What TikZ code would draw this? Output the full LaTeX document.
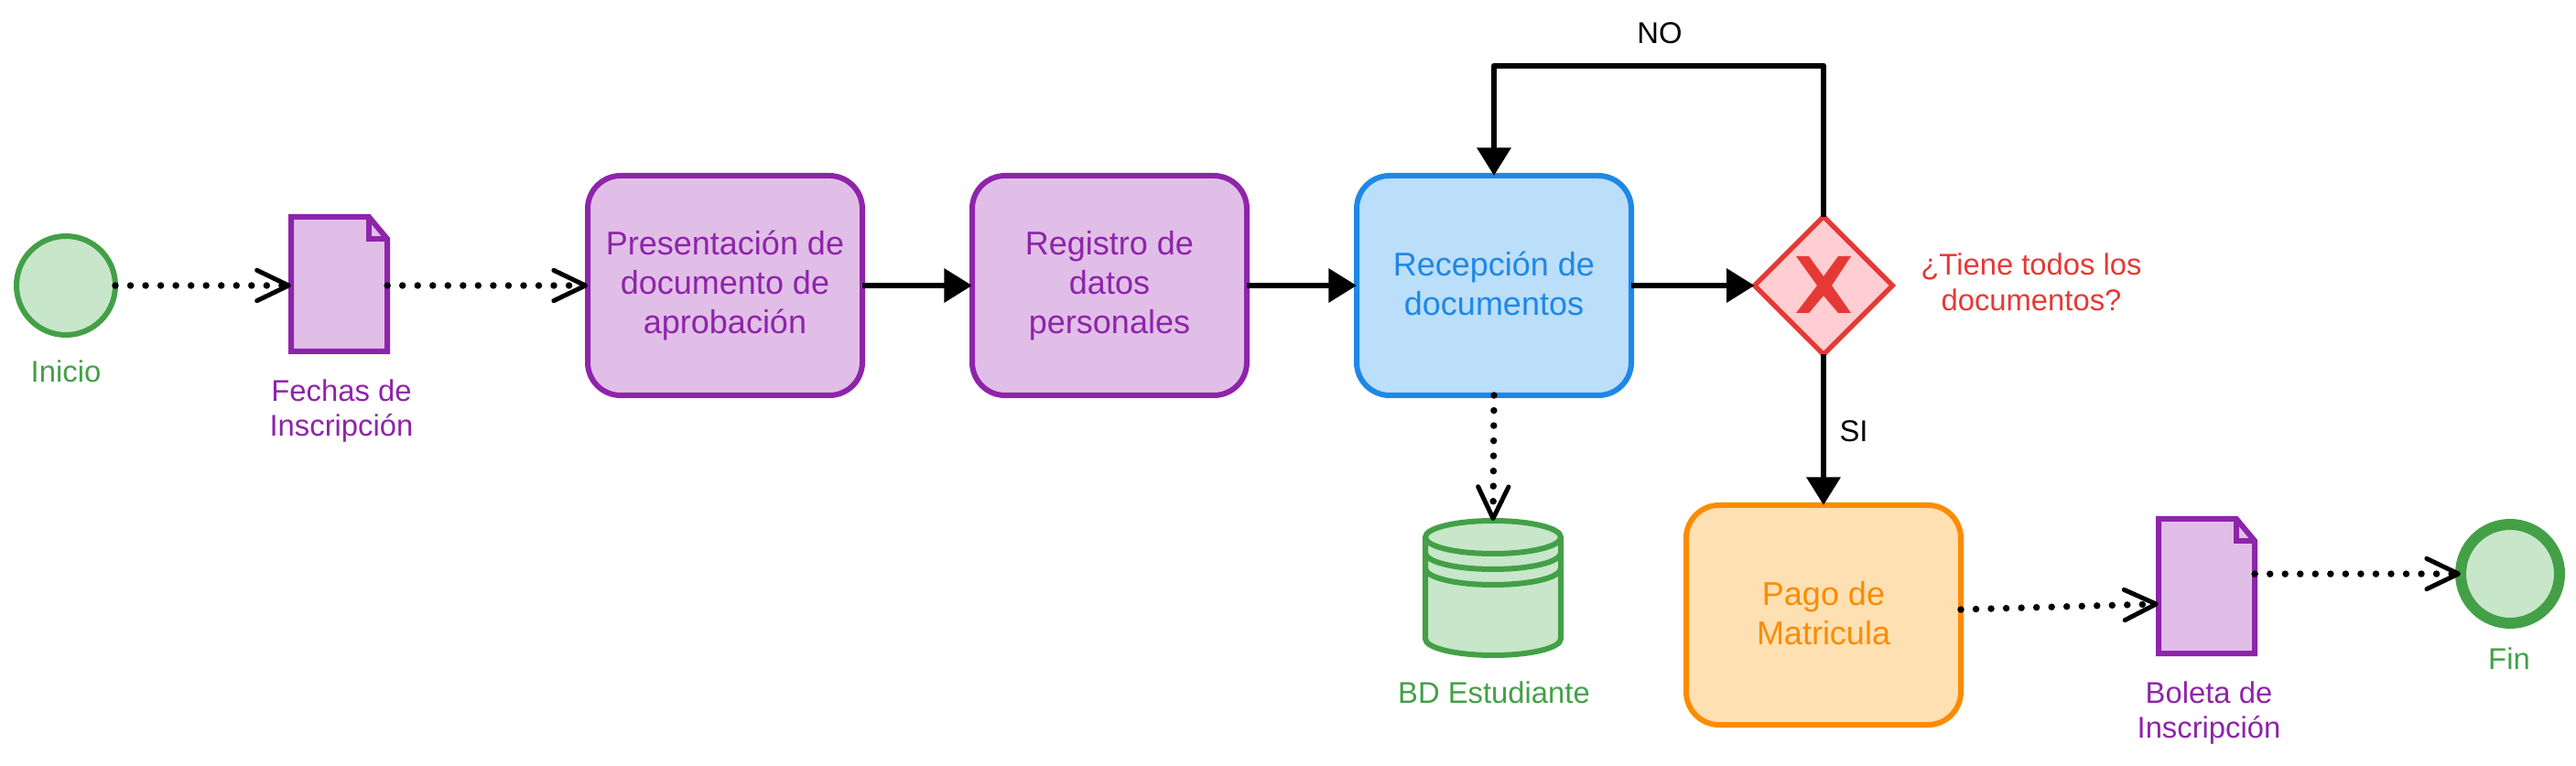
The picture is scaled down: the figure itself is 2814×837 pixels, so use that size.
\documentclass[tikz,border=0pt]{standalone}
\usepackage{fontspec}
\setmainfont{Liberation Sans}
\usetikzlibrary{arrows.meta,shapes.geometric}

\definecolor{verde}{HTML}{43A047}
\definecolor{verdeFondo}{HTML}{C8E6C9}
\definecolor{morado}{HTML}{8E24AA}
\definecolor{moradoFondo}{HTML}{E1BEE7}
\definecolor{azul}{HTML}{1E88E5}
\definecolor{azulFondo}{HTML}{BBDEFB}
\definecolor{naranja}{HTML}{FB8C00}
\definecolor{naranjaFondo}{HTML}{FFE0B2}
\definecolor{rojo}{HTML}{E53935}
\definecolor{rojoFondo}{HTML}{FFCDD2}

\tikzset{
  tarea/.style={draw=#1,fill=#1Fondo,text=#1,rounded corners=27pt,line width=4.5pt,
    minimum width=225pt,minimum height=180pt,outer sep=0pt,inner sep=0.75pt,align=center,
    font=\fontsize{27}{32.3}\selectfont},
  evento/.style={circle,draw=verde,fill=verdeFondo,line width=#1,minimum size=81pt,outer sep=0pt,inner sep=0pt},
  documento/.style={minimum width=79pt,minimum height=110.25pt,outer sep=0pt,inner sep=0pt},
  etiqueta/.style={text=#1,inner sep=0.75pt,align=center,font=\fontsize{24.6}{29}\selectfont},
  flecha/.style={line width=5pt,line join=round,-{Triangle[length=23pt,width=27pt]}},
  punteada/.style={line width=5.6pt,line cap=round,dash pattern=on 0pt off 12.4pt,
    -{Straight Barb[length=26pt,width=25pt,line width=3.75pt,round]}},
}

\begin{document}
\begin{tikzpicture}[x=0.75pt,y=0.75pt,yscale=-1,xscale=1]
\useasboundingbox (0,0) rectangle (2814,837);

%Shape: Circle
\node [evento=4.5pt] (inicio) at (72,312) {};
%Shape: Circle
\node [evento=9pt] (fin) at (2742,627) {};
%Shape: Document
\node [documento] (docFechas) at (370.5,310.5) {};
\draw [draw=morado,fill=moradoFondo,line width=4.5pt] (318,237) -- (403,237) -- (423,261) -- (423,384) -- (318,384) -- cycle ;
\draw [draw=morado,line width=4.5pt] (403,237) -- (403,261) -- (423,261) ;
%Shape: Document
\node [documento] (docBoleta) at (2410.5,640.5) {};
\draw [draw=morado,fill=moradoFondo,line width=4.5pt] (2358,567) -- (2443,567) -- (2463,591) -- (2463,714) -- (2358,714) -- cycle ;
\draw [draw=morado,line width=4.5pt] (2443,567) -- (2443,591) -- (2463,591) ;
%Shape: Rounded Rect
\node [tarea=morado] (presentacion) at (792,312) {Presentación de\\documento de\\aprobación};
\node [tarea=morado] (registro) at (1212,312) {Registro de\\datos\\personales};
\node [tarea=azul,text depth=3.75pt] (recepcion) at (1632,312) {Recepción de\\documentos};
\node [tarea=naranja,text depth=3pt] (pago) at (1992,672) {Pago de\\Matricula};
%Shape: Diamond
\node [diamond,draw=rojo,fill=rojoFondo,line width=4pt,minimum size=113pt,outer sep=0pt,inner sep=0pt] (decision) at (1992,312) {};
\fill [rojo] (1962,280) -- (1976,280) -- (1992,302) -- (2008,280) -- (2022,280) -- (2001,312) -- (2022,342) -- (2008,342) -- (1992,323) -- (1976,342) -- (1962,342) -- (1985,312) -- cycle ;
%Shape: Data Store
\node [minimum width=111pt,minimum height=110.25pt,outer sep=0pt,inner sep=0pt] (baseDatos) at (1631,642.5) {};
\draw [draw=verde,fill=verdeFondo,line width=4.5pt] (1557,587) .. controls (1557,577) and (1590,569) .. (1631,569) .. controls (1672,569) and (1705,577) .. (1705,587) -- (1705,698) .. controls (1705,708) and (1672,716) .. (1631,716) .. controls (1590,716) and (1557,708) .. (1557,698) -- cycle ;
\draw [draw=verde,line width=4.5pt] (1557,587) .. controls (1557,597) and (1590,605) .. (1631,605) .. controls (1672,605) and (1705,597) .. (1705,587) ;
\draw [draw=verde,line width=4.5pt] (1557,604) .. controls (1557,614) and (1590,622) .. (1631,622) .. controls (1672,622) and (1705,614) .. (1705,604) ;
\draw [draw=verde,line width=4.5pt] (1557,621) .. controls (1557,631) and (1590,639) .. (1631,639) .. controls (1672,639) and (1705,631) .. (1705,621) ;

% Connectors
\coordinate (esquinaNo) at (1992,72);
\draw [punteada] (inicio.east) -- ([yshift=1.1pt]docFechas.west);
\draw [punteada] ([yshift=1.1pt]docFechas.east) -- (presentacion.west);
\draw [flecha] (presentacion) -- (registro);
\draw [flecha] (registro) -- (recepcion);
\draw [flecha] (recepcion) -- (decision);
\draw [flecha] (decision.north) -- (esquinaNo) -| (recepcion.north);
\draw [flecha] (decision) -- (pago);
\draw [punteada] (recepcion.south) -- (baseDatos.north);
\draw [punteada] ([yshift=-4.5pt]pago.east) -- ([yshift=14.6pt]docBoleta.west);
\draw [punteada] ([yshift=-10pt]docBoleta.east) -- (fin.west);

% Text Node
\node [etiqueta=verde] (txtInicio) at (72,406) {Inicio};
\node [etiqueta=morado] (txtFechas) at (373,449) {Fechas de\\Inscripción};
\node [etiqueta=verde] (txtBd) at (1632,757) {BD Estudiante};
\node [etiqueta=morado] (txtBoleta) at (2413,779) {Boleta de\\Inscripción};
\node [etiqueta=verde] (txtFin) at (2741,720) {Fin};
\node [etiqueta=rojo] (txtPregunta) at (2219,308) {¿Tiene todos los\\documentos?};
\node [etiqueta=black] (txtNo) at (1813,36) {NO};
\node [etiqueta=black] (txtSi) at (2025,471) {SI};

\end{tikzpicture}
\end{document}
